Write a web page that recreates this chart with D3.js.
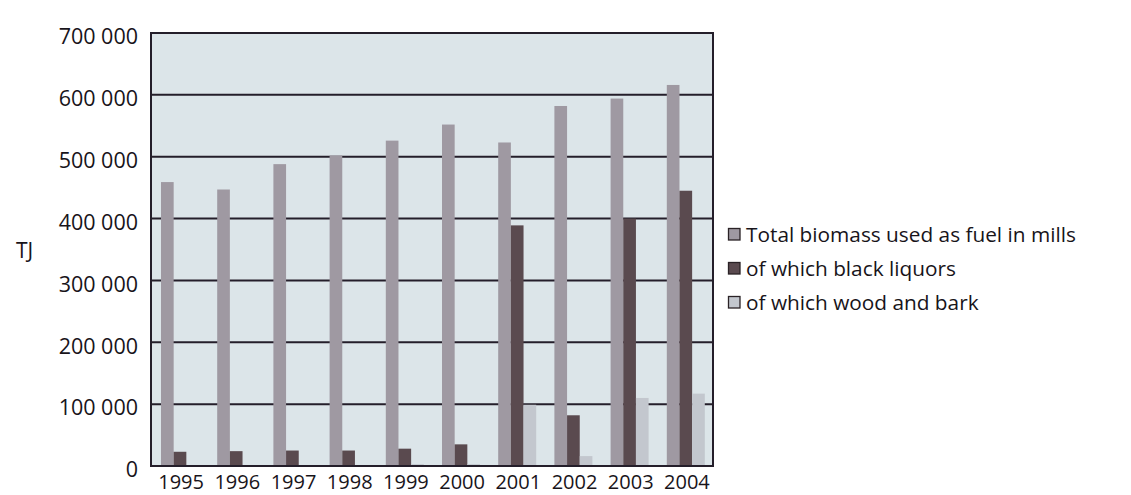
<!DOCTYPE html>
<html>
<head>
<meta charset="utf-8">
<script src="https://cdn.jsdelivr.net/npm/d3@7"></script>
<style>
  html, body { margin: 0; padding: 0; background: #ffffff; }
  svg { display: block; }
  text { font-family: "Open Sans", "Noto Sans", sans-serif; fill: #18141a; font-weight: 500; }
</style>
</head>
<body>
<svg id="chart" width="1131" height="495"></svg>
<script>
// Biomass used as fuel in mills, TJ per year
const years = ["1995", "1996", "1997", "1998", "1999", "2000", "2001", "2002", "2003", "2004"];
const totalBiomass = [459000, 447000, 488000, 502000, 526000, 552000, 523000, 582000, 594000, 616000];
const blackLiquors = [23000, 24000, 25000, 25000, 28000, 35000, 389000, 82000, 400000, 445000];
const woodAndBark = [0, 0, 0, 0, 3000, 3000, 99000, 16000, 110000, 117000];
const seriesNames = ["Total biomass used as fuel in mills", "of which black liquors", "of which wood and bark"];
const yTicks = [0, 100000, 200000, 300000, 400000, 500000, 600000, 700000];
const yTickLabels = ["0", "100 000", "200 000", "300 000", "400 000", "500 000", "600 000", "700 000"];
const unitLabel = "TJ";

const colors = ["#9f99a2", "#5a4a4f", "#c3c7ce"];

const svg = d3.select("#chart");
const margin = { left: 151, top: 33, right: 418, bottom: 29 };
const W = 1131, H = 495;
const plotW = W - margin.left - margin.right;
const plotH = H - margin.top - margin.bottom;

const g = svg.append("g").attr("transform", `translate(${margin.left},${margin.top})`);

const x = d3.scaleBand().domain(years).range([0, plotW]).paddingInner(0).paddingOuter(0);
const sub = d3.scaleBand().domain([0, 1, 2]).range([10, 48]);
const y = d3.scaleLinear().domain([0, 700000]).range([plotH, 0]);

// plot background
g.append("rect").attr("x", 0).attr("y", 0).attr("width", plotW).attr("height", plotH)
  .attr("fill", "#dce5e9");

// horizontal grid lines
g.append("g").selectAll("line").data(yTicks.slice(1, -1)).join("line")
  .attr("x1", 0).attr("x2", plotW)
  .attr("y1", d => y(d)).attr("y2", d => y(d))
  .attr("stroke", "#241e2a").attr("stroke-width", 2);

// bars
const series = [totalBiomass, blackLiquors, woodAndBark];
series.forEach((vals, si) => {
  g.append("g").selectAll("rect").data(vals).join("rect")
    .attr("x", (d, i) => x(years[i]) + sub(si))
    .attr("width", sub.bandwidth())
    .attr("y", d => y(d))
    .attr("height", d => plotH - y(d))
    .attr("fill", colors[si]);
});

// frame
g.append("rect").attr("x", 0).attr("y", 0).attr("width", plotW).attr("height", plotH)
  .attr("fill", "none").attr("stroke", "#241e2a").attr("stroke-width", 2);

// y axis labels
const yAxis = d3.axisLeft(y).tickValues(yTicks)
  .tickFormat((d, i) => yTickLabels[i]).tickSize(0).tickPadding(13);
const ya = g.append("g").call(yAxis);
ya.select(".domain").remove();
ya.selectAll("text").style("font-size", "21.5px").attr("fill", "#18141a")
  .style("font-weight", "500")
  .attr("dy", "0.5em")
  .style("font-family", "'Open Sans', 'Noto Sans', sans-serif");

// x axis labels
const xAxis = d3.axisBottom(x).tickSize(0).tickPadding(9);
const xa = g.append("g").attr("transform", `translate(0,${plotH})`).call(xAxis);
xa.select(".domain").remove();
xa.selectAll("text").style("font-size", "20px").attr("fill", "#18141a")
  .style("font-weight", "500")
  .attr("dx", 2)
  .style("font-family", "'Open Sans', 'Noto Sans', sans-serif");

// unit label
svg.append("text").attr("x", 16).attr("y", 258).style("font-size", "21px").text(unitLabel);

// legend
const legend = svg.append("g").attr("transform", "translate(728,228)");
seriesNames.forEach((name, i) => {
  const row = legend.append("g").attr("transform", `translate(0,${i * 34})`);
  row.append("rect").attr("x", 0.5).attr("y", 0.5).attr("width", 11.5).attr("height", 11.5)
    .attr("fill", colors[i]).attr("stroke", "#2a2226").attr("stroke-width", 1.3);
  row.append("text").attr("x", 18).attr("y", 14).style("font-size", "20.8px").text(name);
});
</script>
</body>
</html>
